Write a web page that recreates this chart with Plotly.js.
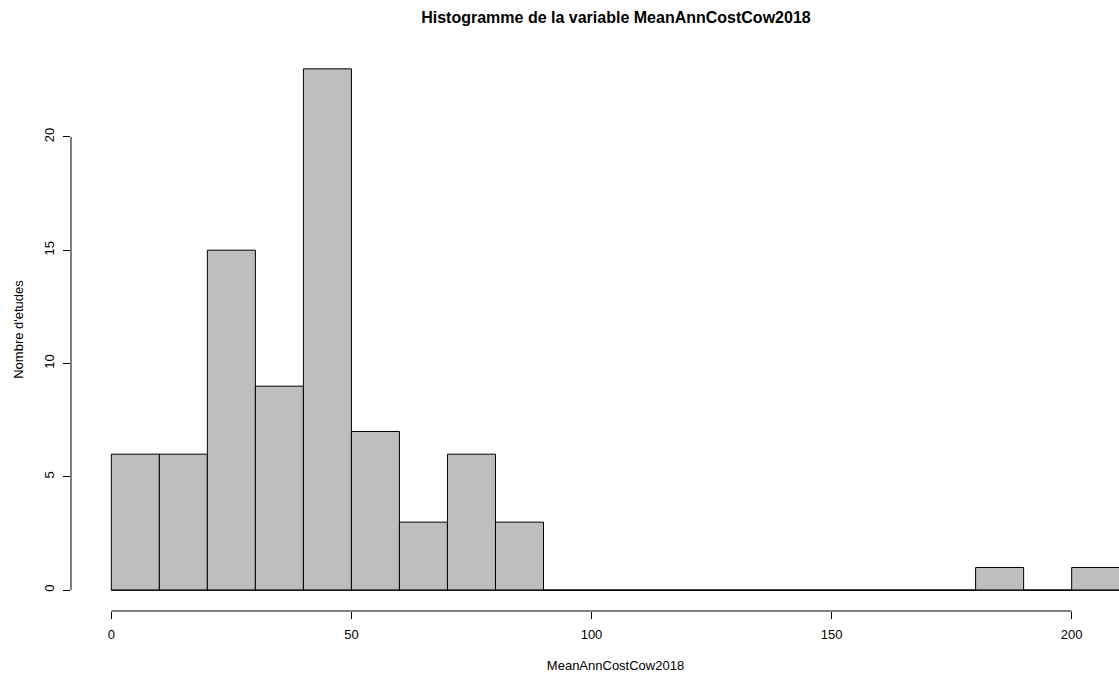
<!DOCTYPE html>
<html>
<head>
<meta charset="utf-8">
<script src="https://cdn.plot.ly/plotly-3.0.1.min.js"></script>
<style>
  html, body { margin: 0; padding: 0; overflow: hidden; background: #fff; }
  #chart { width: 1160px; height: 677px; }
</style>
</head>
<body>
<div id="chart"></div>
<script>
// Histogram bins (edges) and counts per bin
const breaks = [0, 10, 20, 30, 40, 50, 60, 70, 80, 90, 100, 110, 120, 130, 140, 150, 160, 170, 180, 190, 200, 210];
const counts = [6, 6, 15, 9, 23, 7, 3, 6, 3, 0, 0, 0, 0, 0, 0, 0, 0, 0, 1, 0, 1];
const xTicks = [0, 50, 100, 150, 200];
const yTicks = [0, 5, 10, 15, 20];

const mids = counts.map((_, i) => (breaks[i] + breaks[i + 1]) / 2);
const widths = counts.map((_, i) => breaks[i + 1] - breaks[i]);

const font = 'Liberation Sans, Arial, sans-serif';

const bars = {
  type: 'bar',
  x: mids,
  y: counts,
  width: widths,
  marker: { color: '#bebebe', line: { color: '#000', width: 1 } },
  hoverinfo: 'x+y'
};

// bottom edge of every bin, including the empty ones
const baseline = {
  type: 'scatter',
  mode: 'lines',
  x: [breaks[0], breaks[breaks.length - 1]],
  y: [0, 0],
  line: { color: '#000', width: 1 },
  hoverinfo: 'skip'
};

const layout = {
  width: 1160,
  height: 677,
  margin: { l: 71, r: 0, t: 48, b: 66 },
  paper_bgcolor: '#fff',
  plot_bgcolor: '#fff',
  showlegend: false,
  font: { family: font, size: 13, color: '#000' },
  title: {
    text: '<b>Histogramme de la variable MeanAnnCostCow2018</b>',
    font: { family: font, size: 16, color: '#000' },
    x: 0.531, xanchor: 'center', xref: 'container',
    y: 0.975, yanchor: 'middle', yref: 'container'
  },
  xaxis: {
    range: [-8.4, 218.4],
    tickvals: xTicks,
    ticktext: xTicks.map(String),
    ticks: 'outside', ticklen: 7, tickwidth: 1, tickcolor: '#000',
    showline: false, showgrid: false, zeroline: false,
    ticklabelstandoff: 4,
    tickfont: { family: font, size: 13, color: '#000' },
    title: { text: 'MeanAnnCostCow2018', font: { family: font, size: 13, color: '#000' }, standoff: 20 },
    fixedrange: true
  },
  yaxis: {
    range: [-0.92, 23.92],
    tickvals: yTicks,
    ticktext: yTicks.map(String),
    tickangle: -90,
    ticks: 'outside', ticklen: 7, tickwidth: 1, tickcolor: '#000',
    showline: false, showgrid: false, zeroline: false,
    ticklabelstandoff: 4,
    tickfont: { family: font, size: 13, color: '#000' },
    title: { text: "Nombre d'etudes", font: { family: font, size: 13, color: '#000' }, standoff: 15 },
    fixedrange: true
  },
  shapes: [
    { type: 'line', xref: 'x', yref: 'paper', x0: xTicks[0], x1: xTicks[xTicks.length - 1], y0: 0, y1: 0,
      line: { color: '#000', width: 1 } },
    { type: 'line', xref: 'paper', yref: 'y', x0: 0, x1: 0, y0: yTicks[0], y1: yTicks[yTicks.length - 1],
      line: { color: '#000', width: 1 } }
  ]
};

Plotly.newPlot('chart', [bars, baseline], layout, { displayModeBar: false, staticPlot: true });
</script>
</body>
</html>
